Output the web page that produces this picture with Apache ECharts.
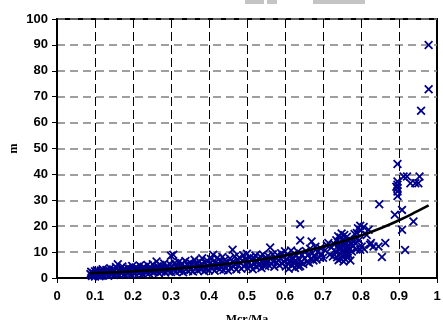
<!DOCTYPE html>
<html>
<head>
<meta charset="utf-8">
<script src="https://cdn.jsdelivr.net/npm/echarts@6/dist/echarts.min.js"></script>
<style>
  html, body { margin: 0; padding: 0; background: #fff; }
  #chart { width: 443px; height: 320px; }
</style>
</head>
<body>
<div id="chart"></div>
<script>
// Observed points: [Mcr/Ma, m]
const observed = [
  [0.088,1.5],[0.09,2.4],[0.092,0.8],[0.095,1.9],[0.098,1.2],[0.1,2.6],[0.1,0.6],
  [0.103,1.8],[0.105,3.0],[0.108,1.1],[0.11,2.2],[0.112,0.7],[0.115,2.9],[0.118,1.6],[0.12,3.4],[0.122,1.0],
  [0.125,2.4],[0.128,1.4],[0.13,3.1],[0.132,2.0],[0.135,0.9],[0.138,2.7],[0.14,3.8],[0.142,1.5],[0.145,2.3],
  [0.148,3.3],[0.15,1.2],
  [0.152,2.8],[0.155,4.2],[0.158,1.8],[0.16,5.3],[0.161,3.0],[0.163,1.3],[0.165,2.5],[0.168,3.7],[0.17,1.9],
  [0.172,4.4],[0.175,2.9],[0.178,1.4],[0.18,3.3],[0.182,2.2],[0.185,4.0],[0.188,1.7],[0.19,2.8],[0.192,3.6],
  [0.195,1.3],[0.198,4.6],[0.2,2.4],
  [0.202,3.2],[0.205,1.6],[0.207,4.1],[0.21,2.7],[0.212,3.8],[0.215,1.9],[0.218,4.8],[0.22,2.3],[0.222,3.4],
  [0.225,1.5],[0.228,4.3],[0.23,2.9],[0.232,3.7],[0.235,2.0],[0.238,5.0],[0.24,3.1],[0.242,1.8],[0.245,4.0],
  [0.248,2.6],[0.25,3.5],
  [0.252,5.3],[0.255,2.2],[0.258,3.9],[0.26,2.8],[0.262,6.4],[0.265,4.5],[0.268,1.9],[0.27,3.3],[0.272,5.0],
  [0.275,2.5],[0.278,4.1],[0.28,3.0],[0.282,5.6],[0.285,2.1],[0.288,3.8],[0.29,4.7],[0.292,2.7],[0.295,3.5],
  [0.298,5.2],[0.3,8.6],[0.3,2.3],
  [0.303,4.3],[0.306,9.0],[0.308,3.1],[0.31,5.8],[0.312,2.4],[0.315,4.6],[0.318,3.6],[0.32,6.1],[0.322,2.8],
  [0.325,4.9],[0.328,3.3],[0.33,5.5],[0.332,2.2],[0.335,4.0],[0.338,6.6],[0.34,3.5],[0.342,5.2],[0.345,2.7],
  [0.348,4.4],[0.35,6.0],
  [0.352,3.2],[0.355,5.1],[0.358,2.5],[0.36,4.6],[0.362,7.0],[0.365,3.8],[0.368,5.7],[0.37,2.9],[0.372,4.3],
  [0.375,6.4],[0.378,3.4],[0.38,5.3],[0.382,7.6],[0.385,4.1],[0.388,2.6],[0.39,5.9],[0.392,3.7],[0.395,6.8],
  [0.398,4.5],[0.4,3.0],
  [0.402,5.6],[0.405,7.3],[0.408,3.9],[0.411,9.0],[0.412,4.8],[0.415,2.8],[0.418,6.2],[0.42,4.2],[0.422,7.8],
  [0.425,5.1],[0.428,3.4],[0.43,6.5],[0.432,4.6],[0.435,8.1],[0.438,3.1],[0.44,5.7],[0.442,7.0],[0.445,4.0],
  [0.448,6.0],[0.45,2.9],
  [0.452,5.2],[0.455,7.5],[0.458,3.7],[0.462,10.9],[0.463,6.3],[0.465,4.4],[0.468,8.3],[0.47,5.6],[0.472,3.3],
  [0.475,6.9],[0.478,4.8],[0.48,7.9],[0.482,5.9],[0.485,3.6],[0.488,6.6],[0.49,8.8],[0.492,4.5],[0.495,7.2],
  [0.498,5.3],[0.5,9.4],
  [0.502,3.8],[0.505,6.1],[0.508,8.0],[0.51,4.7],[0.512,6.9],[0.515,3.4],[0.518,7.6],[0.52,5.5],[0.522,8.7],
  [0.525,4.2],[0.528,6.4],[0.53,7.4],[0.532,5.0],[0.535,8.3],[0.538,3.9],[0.54,6.7],[0.542,9.1],[0.545,5.8],
  [0.548,4.5],[0.55,7.1],
  [0.552,6.0],[0.555,8.6],[0.558,4.8],[0.561,11.8],[0.562,7.3],[0.565,5.4],[0.568,9.2],[0.57,6.5],[0.572,4.3],
  [0.575,7.9],[0.578,5.9],[0.58,8.9],[0.582,6.9],[0.585,4.9],[0.588,7.5],[0.59,9.6],[0.592,5.6],[0.595,8.2],
  [0.598,6.3],[0.6,10.3],
  [0.602,4.4],[0.604,7.2],[0.606,9.0],[0.608,5.5],[0.61,3.6],[0.612,8.1],[0.614,6.4],[0.616,10.6],[0.618,4.8],
  [0.62,7.7],[0.622,5.9],[0.624,9.4],[0.626,3.9],[0.628,6.8],[0.63,8.6],[0.632,5.2],[0.634,10.1],[0.636,4.3],
  [0.638,7.1],[0.64,20.8],[0.64,14.5],[0.64,4.6],[0.642,6.0],[0.645,9.0],[0.648,5.4],
  [0.652,7.6],[0.655,10.4],[0.658,6.3],[0.66,8.8],[0.663,5.9],[0.666,11.3],[0.668,7.4],[0.67,14.1],[0.672,9.6],
  [0.675,6.8],[0.678,8.3],[0.68,12.1],[0.683,7.1],[0.686,10.0],[0.69,8.0],[0.693,11.6],[0.696,9.1],[0.7,7.8],
  [0.705,10.7],[0.71,12.6],[0.714,13.5],[0.718,9.0],[0.722,11.8],[0.726,8.3],[0.73,13.0],
  [0.733,10.2],[0.735,14.6],[0.737,8.0],[0.739,12.3],[0.74,16.1],[0.741,6.9],[0.742,10.9],[0.744,13.8],
  [0.745,9.2],[0.746,15.6],[0.747,7.5],[0.748,11.7],[0.749,17.2],[0.75,13.0],[0.751,8.6],[0.752,15.0],
  [0.753,10.4],[0.754,6.4],[0.755,12.6],[0.756,16.6],[0.757,9.6],[0.758,14.2],[0.759,7.2],[0.76,11.2],
  [0.761,13.4],[0.762,8.9],[0.763,15.9],[0.764,10.0],[0.765,7.8],[0.766,12.0],[0.767,14.7],[0.768,9.0],
  [0.77,11.4],[0.772,6.8],[0.774,13.0],
  [0.776,10.2],[0.778,14.3],[0.78,12.4],[0.783,17.0],[0.785,13.5],[0.787,11.0],[0.789,17.4],[0.79,15.2],
  [0.792,19.2],[0.795,14.6],[0.798,20.2],[0.798,10.9],[0.8,18.4],
  [0.802,12.2],[0.807,19.7],[0.808,11.2],[0.815,16.6],[0.82,18.6],[0.824,12.8],[0.826,13.5],[0.833,12.2],
  [0.846,12.2],[0.848,28.5],[0.855,8.1],[0.864,13.5],
  [0.889,24.4],[0.896,44.0],[0.896,37.3],[0.896,36.0],[0.896,34.7],[0.896,33.4],[0.896,31.7],[0.893,35.2],
  [0.908,26.3],[0.908,18.6],[0.912,39.2],[0.916,10.8],[0.921,39.2],[0.93,36.6],[0.938,21.8],[0.943,36.6],
  [0.951,36.6],[0.954,39.2],[0.958,64.6],[0.978,72.9],[0.978,90.0]
];

// Fitted trend curve: [Mcr/Ma, m]
const trend = [
  [0.086,1.9],[0.15,2.2],[0.2,2.6],[0.25,3.0],[0.3,3.5],[0.35,4.1],[0.4,4.7],[0.45,5.5],
  [0.5,6.4],[0.55,7.4],[0.6,8.7],[0.65,10.3],[0.7,12.1],[0.75,14.1],[0.8,16.4],[0.85,19.1],
  [0.9,22.3],[0.95,25.9],[0.978,28.0]
];

const xTickLabels = ['0','0.1','0.2','0.3','0.4','0.5','0.6','0.7','0.8','0.9','1'];
const yTickLabels = ['0','10','20','30','40','50','60','70','80','90','100'];

// Thin "x" cross drawn as a filled outline
const crossMark = 'path://M0,1.4 L1.4,0 L5,3.6 L8.6,0 L10,1.4 L6.4,5 L10,8.6 L8.6,10 L5,6.4 L1.4,10 L0,8.6 L3.6,5 Z';

const chart = echarts.init(document.getElementById('chart'), null, { renderer: 'canvas' });

chart.setOption({
  animation: false,
  backgroundColor: '#ffffff',
  grid: {
    left: 57, right: 6, top: 19, bottom: 42,
    outerBoundsMode: 'none', containLabel: false,
    show: true, borderColor: '#000', borderWidth: 2, backgroundColor: 'transparent'
  },
  graphic: [
    { type: 'rect', shape: { x: 245, y: 0, width: 19, height: 4 }, style: { fill: '#c4c4c4' } },
    { type: 'rect', shape: { x: 267, y: 0, width: 10, height: 4 }, style: { fill: '#c4c4c4' } },
    { type: 'rect', shape: { x: 313, y: 0, width: 52, height: 4 }, style: { fill: '#c4c4c4' } }
  ],
  xAxis: {
    type: 'value', min: 0, max: 1, interval: 0.1,
    name: 'Mcr/Ma', nameLocation: 'middle', nameGap: 36, nameMoveOverlap: false,
    nameTextStyle: { fontFamily: 'Liberation Serif', fontWeight: 'bold', fontSize: 12, color: '#000' },
    axisLine: { show: true, lineStyle: { color: '#000', width: 2 } },
    axisTick: { show: true, length: 5, lineStyle: { color: '#000', width: 1 } },
    axisLabel: {
      margin: 12, fontFamily: 'Liberation Sans', fontWeight: 'bold', fontSize: 13, color: '#000',
      formatter: v => xTickLabels[Math.round(v * 10)]
    },
    splitLine: { show: true, lineStyle: { color: '#000', width: 1, type: [9, 4] } }
  },
  yAxis: {
    type: 'value', min: 0, max: 100, interval: 10,
    name: 'm', nameLocation: 'middle', nameGap: 37, nameRotate: 90, nameMoveOverlap: false,
    nameTextStyle: { fontFamily: 'Liberation Serif', fontWeight: 'bold', fontSize: 12, color: '#000' },
    axisLine: { show: true, lineStyle: { color: '#000', width: 2 } },
    axisTick: { show: true, length: 5, lineStyle: { color: '#000', width: 1 } },
    axisLabel: {
      margin: 9, fontFamily: 'Liberation Sans', fontWeight: 'bold', fontSize: 13, color: '#000',
      formatter: v => yTickLabels[Math.round(v / 10)]
    },
    splitLine: { show: true, lineStyle: { color: '#808080', width: 1.5, type: [8, 5] } }
  },
  series: [
    {
      type: 'scatter', data: observed, symbol: crossMark, symbolSize: 9,
      itemStyle: { color: '#00008b', opacity: 1 }, z: 3
    },
    {
      type: 'line', data: trend, smooth: true, showSymbol: false, symbol: 'none',
      lineStyle: { color: '#000', width: 2.5 }, z: 4
    }
  ]
});
</script>
</body>
</html>
